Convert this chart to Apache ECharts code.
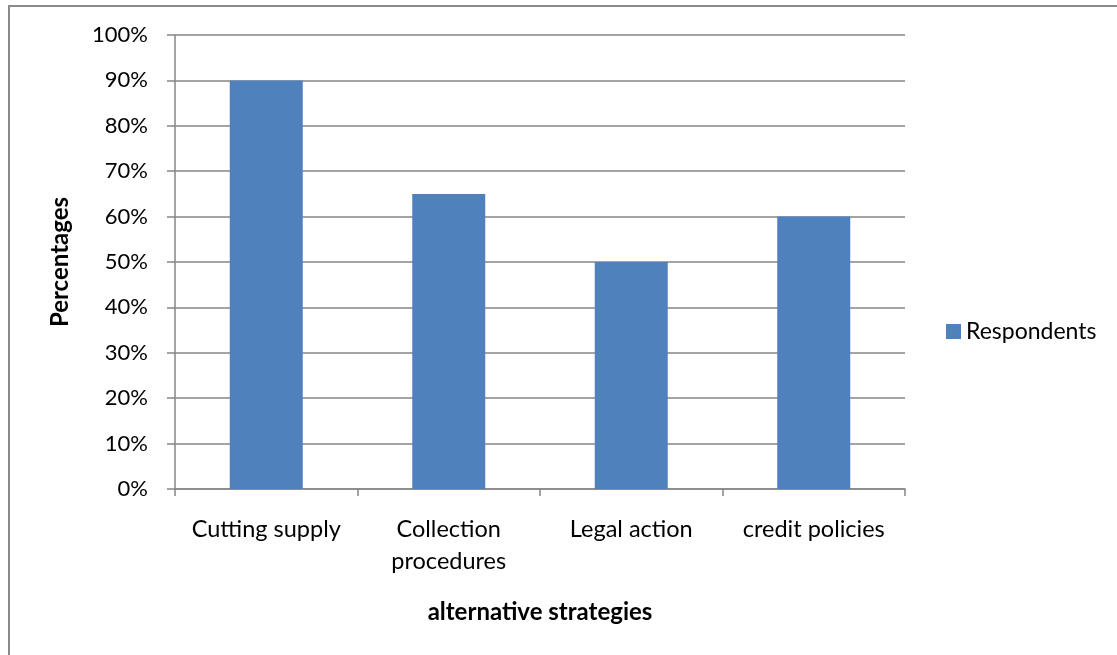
<!DOCTYPE html>
<html>
<head>
<meta charset="utf-8">
<script src="https://cdn.jsdelivr.net/npm/echarts@6/dist/echarts.min.js"></script>
<style>
  html, body { margin: 0; padding: 0; background: #fff; }
  #frame { position: absolute; left: 8px; top: 5px; width: 1200px; height: 700px; border: 2px solid #8a8a8a; box-sizing: border-box; }
  #chart { position: absolute; left: 0; top: 0; width: 1117px; height: 655px; }
</style>
</head>
<body>
<div id="frame"></div>
<div id="chart"></div>
<script>
// Share of respondents citing each strategy
const categories = ['Cutting supply', 'Collection\nprocedures', 'Legal action', 'credit policies'];
const respondents = [90, 65, 50, 60];
const seriesName = 'Respondents';

const font = 'Lato, "Open Sans", sans-serif';
const chart = echarts.init(document.getElementById('chart'), null, { renderer: 'canvas' });

chart.setOption({
  animation: false,
  textStyle: { fontFamily: font },
  grid: { left: 175, right: 212, top: 35, bottom: 166, containLabel: false },
  legend: {
    data: [seriesName],
    left: 941, top: 315,
    itemWidth: 15, itemHeight: 15, itemGap: 8,
    icon: 'rect',
    textStyle: { fontFamily: font, fontSize: 23, color: '#000' }
  },
  xAxis: {
    type: 'category',
    data: categories,
    name: 'alternative strategies',
    nameLocation: 'middle',
    nameGap: 111,
    nameTextStyle: { fontFamily: font, fontSize: 24, fontWeight: 'bold', color: '#000' },
    axisLine: { lineStyle: { color: '#868686', width: 1.5 } },
    axisTick: { show: true, length: 7, lineStyle: { color: '#868686', width: 1.5 } },
    axisLabel: { fontFamily: font, fontSize: 23.5, color: '#000', margin: 24, lineHeight: 32, interval: 0 }
  },
  yAxis: {
    type: 'value',
    min: 0, max: 100, interval: 10,
    name: 'Percentages',
    nameLocation: 'middle',
    nameGap: 103,
    nameTextStyle: { fontFamily: font, fontSize: 24, fontWeight: 'bold', color: '#000' },
    axisLine: { show: true, lineStyle: { color: '#868686', width: 1.5 } },
    axisTick: { show: true, inside: false, length: 8, lineStyle: { color: '#868686', width: 1.5 } },
    axisLabel: { fontFamily: font, fontSize: 22, color: '#000', margin: 27, formatter: '{value}%' },
    splitLine: { show: true, lineStyle: { color: '#868686', width: 1.5 } }
  },
  series: [{
    name: seriesName,
    type: 'bar',
    data: respondents,
    barWidth: '40%',
    itemStyle: { color: '#4f81bd' }
  }]
});
</script>
</body>
</html>
